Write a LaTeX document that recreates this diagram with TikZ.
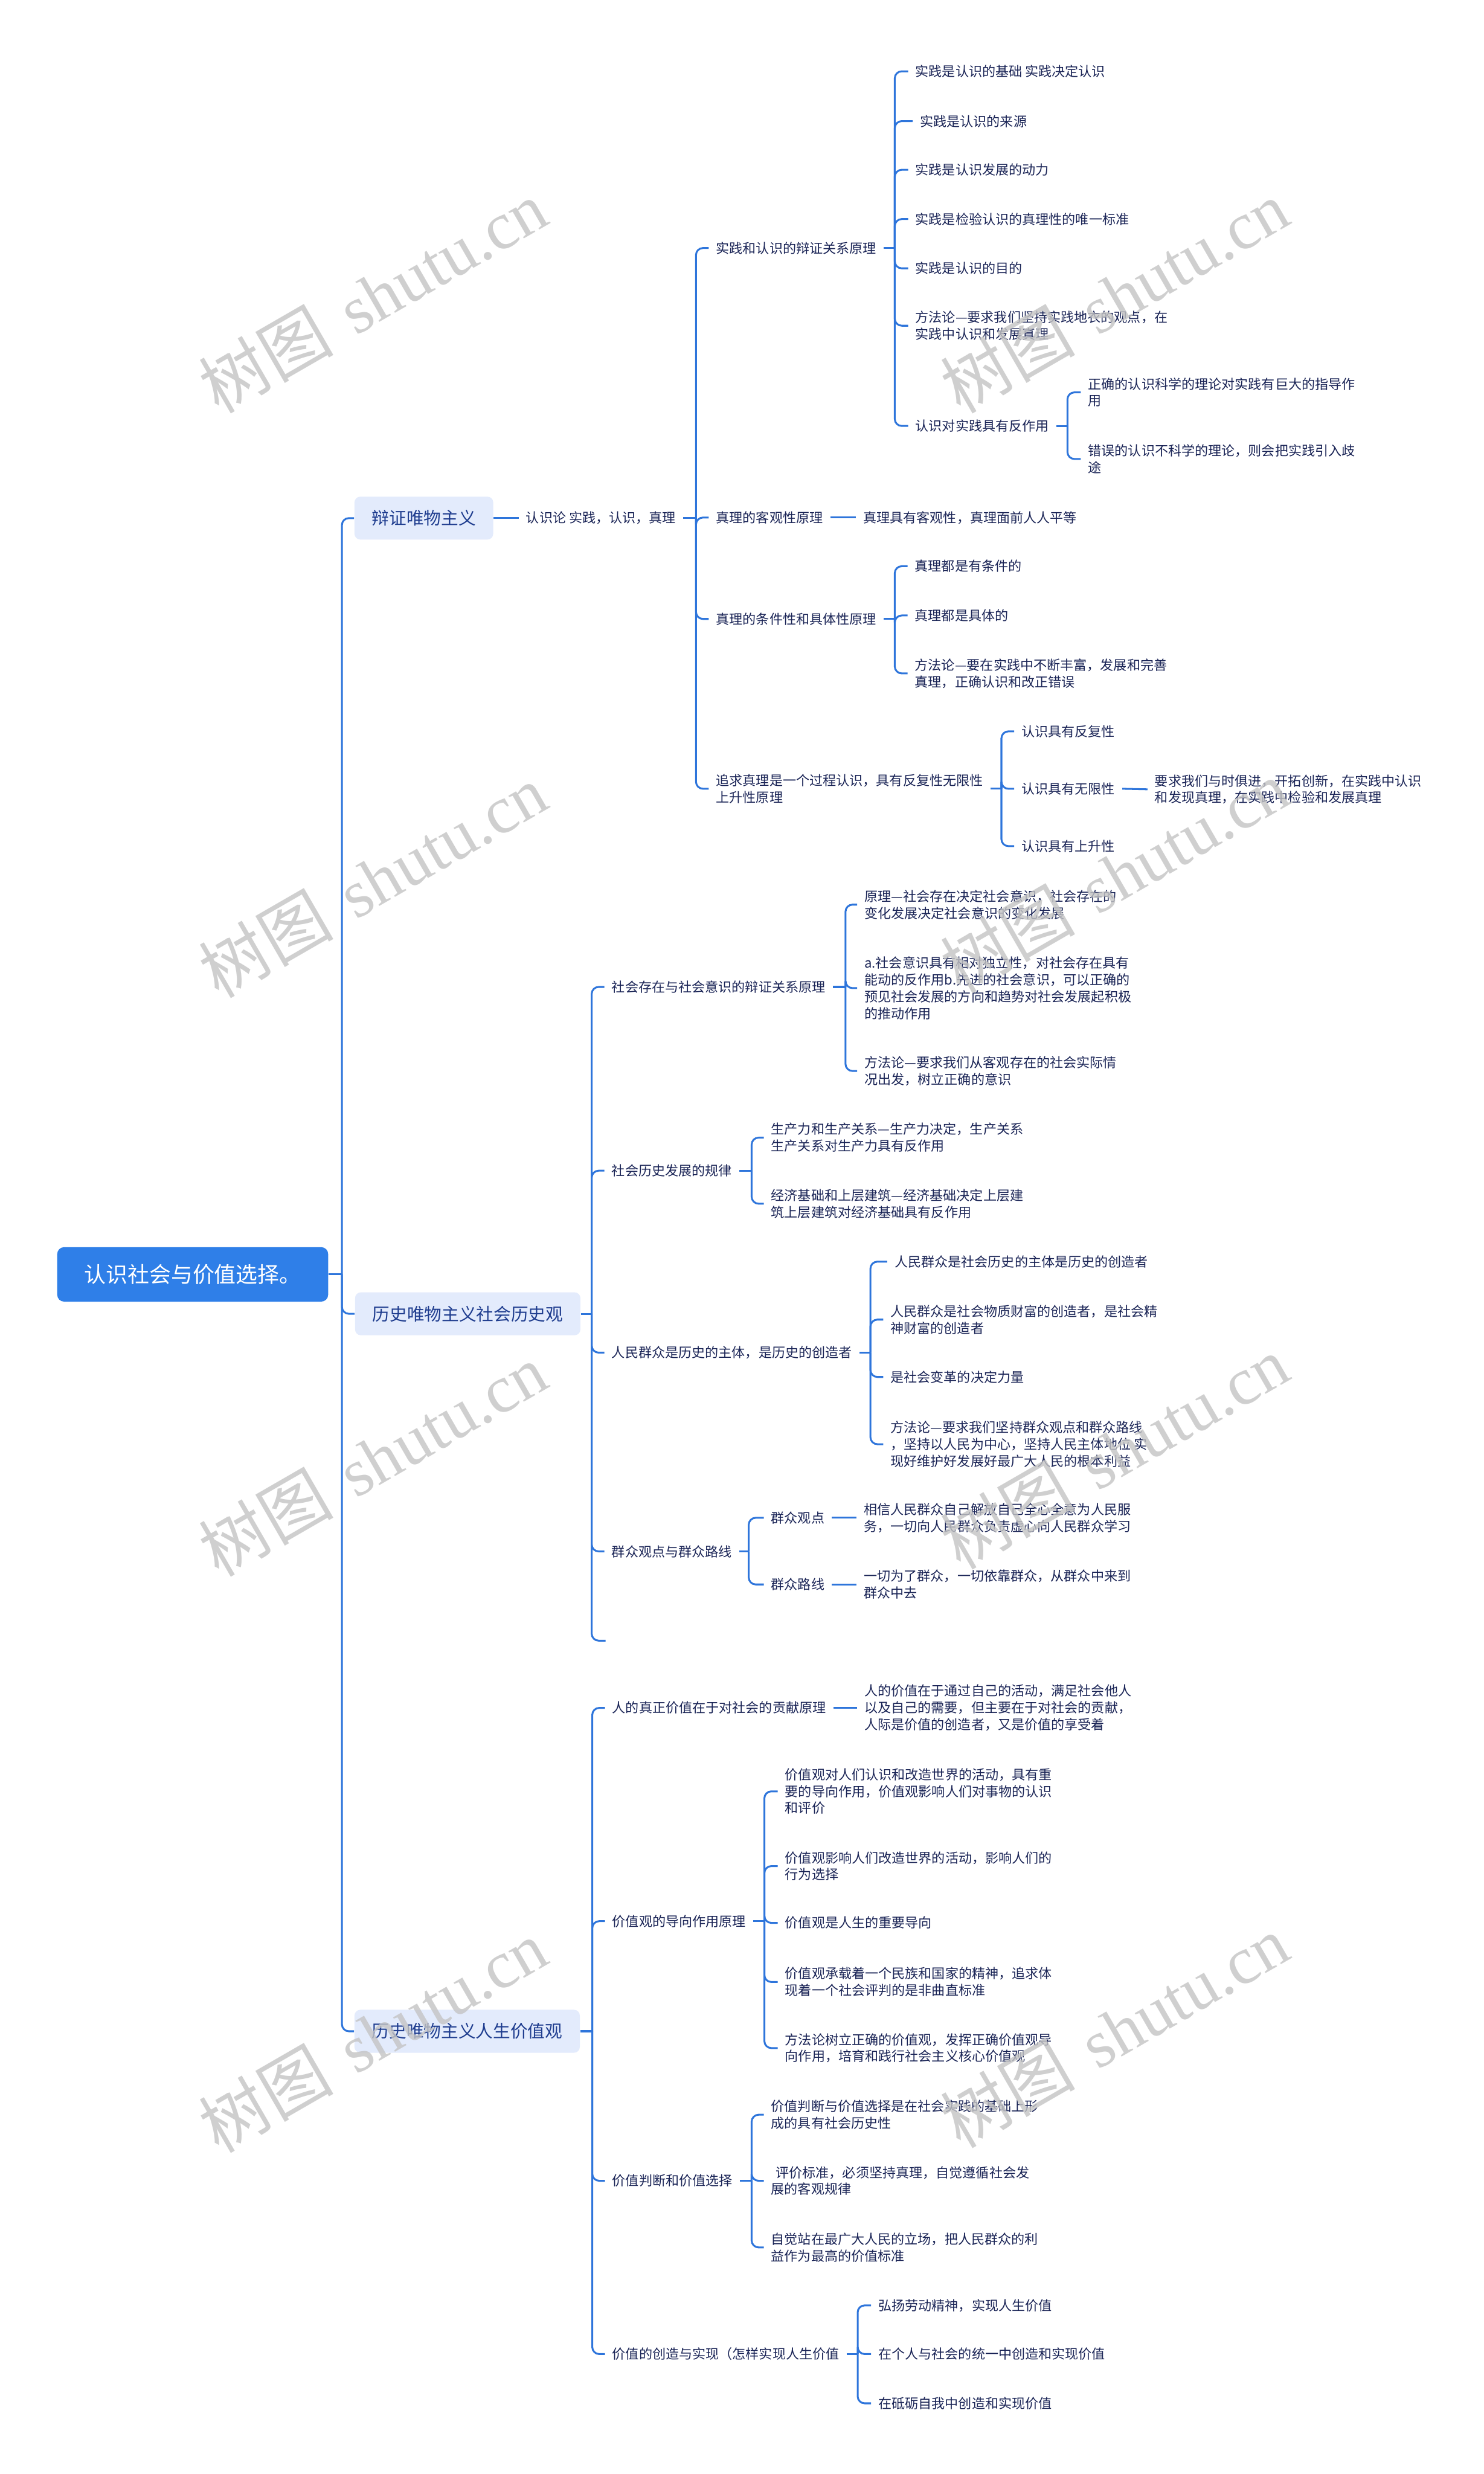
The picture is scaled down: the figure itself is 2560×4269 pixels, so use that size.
\documentclass[tikz,border=0pt]{standalone}
\usepackage{fontspec}
\newfontfamily\cjk{Noto Sans CJK SC}
\newfontfamily\wmserif{Liberation Serif}
\definecolor{lineblue}{HTML}{2E75DB}
\definecolor{rootfill}{HTML}{2F7FE8}
\definecolor{lonefill}{HTML}{E3EBFC}
\definecolor{lonetext}{HTML}{1F3D8F}
\definecolor{txt}{HTML}{1A2456}
\definecolor{wmgray}{HTML}{C4C4C4}
\newcommand{\mmsmall}{\cjk\fontsize{6.55pt}{8.23pt}\selectfont}
\newcommand{\mmmid}{\cjk\fontsize{8.5pt}{10pt}\selectfont}
\newcommand{\mmbig}{\cjk\fontsize{10.65pt}{12pt}\selectfont}
\begin{document}
\begin{tikzpicture}[x=0.01cm,y=-0.01cm,
  conn/.style={draw=lineblue,line width=0.9pt,rounded corners=0.12cm},
  rootbox/.style={fill=rootfill,rounded corners=0.12cm,text=white,font=\mmbig,
    minimum height=0.94cm,inner xsep=0.465cm,anchor=west},
  lonebox/.style={fill=lonefill,rounded corners=0.1cm,text=lonetext,font=\mmmid,
    minimum height=0.74cm,inner xsep=0.30cm,anchor=west},
  tx/.style={anchor=west,inner xsep=0.12cm,inner ysep=0.02cm,xshift=-0.12cm,
    align=left,text=txt,font=\mmsmall},
  wm/.style={text=wmgray,opacity=0.8,rotate=30,font=\fontsize{33pt}{36pt}\selectfont,inner sep=0}
]
\fill[white] (0,0) rectangle (2560,4269);
\useasboundingbox (0,0) rectangle (2560,4269);

% ---------- nodes ----------
\node[rootbox] (root) at (98,2199) {认识社会与价值选择。};
\node[lonebox] (A) at (611,894) {辩证唯物主义};
\node[lonebox] (B) at (612,2267) {历史唯物主义社会历史观};
\node[lonebox] (C) at (611,3505) {历史唯物主义人生价值观};

% section A
\node[tx] (A1) at (907,894) {认识论 实践，认识，真理};
\node[tx] (A1a) at (1235,428) {实践和认识的辩证关系原理};
\node[tx] (A1b) at (1235,893) {真理的客观性原理};
\node[tx] (A1c) at (1235,1068) {真理的条件性和具体性原理};
\node[tx] (A1d) at (1235,1361) {追求真理是一个过程认识，具有反复性无限性\\上升性原理};

\node[tx] (A1a1) at (1579,123) {实践是认识的基础 实践决定认识};
\node[tx] (A1a2) at (1587,209) {实践是认识的来源};
\node[tx] (A1a3) at (1579,293) {实践是认识发展的动力};
\node[tx] (A1a4) at (1579,378) {实践是检验认识的真理性的唯一标准};
\node[tx] (A1a5) at (1579,463) {实践是认识的目的};
\node[tx] (A1a6) at (1579,562) {方法论—要求我们坚持实践地衣的观点，在\\实践中认识和发展真理};
\node[tx] (A1a7) at (1579,735) {认识对实践具有反作用};
\node[tx] (A1a71) at (1877,677) {正确的认识科学的理论对实践有巨大的指导作\\用};
\node[tx] (A1a72) at (1877,792) {错误的认识不科学的理论，则会把实践引入歧\\途};

\node[tx] (A1b1) at (1489,893) {真理具有客观性，真理面前人人平等};

\node[tx] (A1c1) at (1578,977) {真理都是有条件的};
\node[tx] (A1c2) at (1578,1062) {真理都是具体的};
\node[tx] (A1c3) at (1578,1162) {方法论—要在实践中不断丰富，发展和完善\\真理，正确认识和改正错误};

\node[tx] (A1d1) at (1762,1262) {认识具有反复性};
\node[tx] (A1d2) at (1762,1361) {认识具有无限性};
\node[tx] (A1d3) at (1762,1460) {认识具有上升性};
\node[tx] (A1d21) at (1992,1362) {要求我们与时俱进，开拓创新，在实践中认识\\和发现真理，在实践中检验和发展真理};

% section B
\node[tx] (B1) at (1055,1703) {社会存在与社会意识的辩证关系原理};
\node[tx] (B2) at (1055,2020) {社会历史发展的规律};
\node[tx] (B3) at (1055,2334) {人民群众是历史的主体，是历史的创造者};
\node[tx] (B4) at (1055,2677) {群众观点与群众路线};
\coordinate (B5) at (1045,2831);

\node[tx] (B11) at (1491,1561) {原理—社会存在决定社会意识，社会存在的\\变化发展决定社会意识的变化发展};
\node[tx] (B12) at (1491,1705) {a.社会意识具有相对独立性，对社会存在具有\\能动的反作用b.先进的社会意识，可以正确的\\预见社会发展的方向和趋势对社会发展起积极\\的推动作用};
\node[tx] (B13) at (1491,1848) {方法论—要求我们从客观存在的社会实际情\\况出发，树立正确的意识};

\node[tx] (B21) at (1330,1963) {生产力和生产关系—生产力决定，生产关系\\生产关系对生产力具有反作用};
\node[tx] (B22) at (1330,2077) {经济基础和上层建筑—经济基础决定上层建\\筑上层建筑对经济基础具有反作用};

\node[tx] (B31) at (1543,2177) {人民群众是社会历史的主体是历史的创造者};
\node[tx] (B32) at (1536,2277) {人民群众是社会物质财富的创造者，是社会精\\神财富的创造者};
\node[tx] (B33) at (1536,2376) {是社会变革的决定力量};
\node[tx] (B34) at (1536,2492) {方法论—要求我们坚持群众观点和群众路线\\，坚持以人民为中心，坚持人民主体地位 实\\现好维护好发展好最广大人民的根本利益};

\node[tx] (B41) at (1330,2619) {群众观点};
\node[tx] (B42) at (1330,2734) {群众路线};
\node[tx] (B411) at (1490,2619) {相信人民群众自己解放自己全心全意为人民服\\务，一切向人民群众负责虚心向人民群众学习};
\node[tx] (B421) at (1490,2734) {一切为了群众，一切依靠群众，从群众中来到\\群众中去};

% section C
\node[tx] (C1) at (1056,2947) {人的真正价值在于对社会的贡献原理};
\node[tx] (C2) at (1056,3315) {价值观的导向作用原理};
\node[tx] (C3) at (1056,3763) {价值判断和价值选择};
\node[tx] (C4) at (1056,4062) {价值的创造与实现（怎样实现人生价值};

\node[tx] (C11) at (1491,2947) {人的价值在于通过自己的活动，满足社会他人\\以及自己的需要，但主要在于对社会的贡献，\\人际是价值的创造者，又是价值的享受着};

\node[tx] (C21) at (1354,3091) {价值观对人们认识和改造世界的活动，具有重\\要的导向作用，价值观影响人们对事物的认识\\和评价};
\node[tx] (C22) at (1354,3220) {价值观影响人们改造世界的活动，影响人们的\\行为选择};
\node[tx] (C23) at (1354,3318) {价值观是人生的重要导向};
\node[tx] (C24) at (1354,3420) {价值观承载着一个民族和国家的精神，追求体\\现着一个社会评判的是非曲直标准};
\node[tx] (C25) at (1354,3534) {方法论树立正确的价值观，发挥正确价值观导\\向作用，培育和践行社会主义核心价值观};

\node[tx] (C31) at (1330,3649) {价值判断与价值选择是在社会实践的基础上形\\成的具有社会历史性};
\node[tx] (C32) at (1330,3763) {\hspace*{0.08cm}评价标准，必须坚持真理，自觉遵循社会发\\展的客观规律};
\node[tx] (C33) at (1330,3878) {自觉站在最广大人民的立场，把人民群众的利\\益作为最高的价值标准};

\node[tx] (C41) at (1515,3978) {弘扬劳动精神，实现人生价值};
\node[tx] (C42) at (1515,4062) {在个人与社会的统一中创造和实现价值};
\node[tx] (C43) at (1515,4147) {在砥砺自我中创造和实现价值};

% ---------- fork points ----------
\coordinate (f0) at (590,2199);
\coordinate (fA1) at (1201,894);
\coordinate (fA1a) at (1544,428);
\coordinate (fA1a7) at (1842,735);
\coordinate (fA1c) at (1544,1068);
\coordinate (fA1d) at (1728,1361);
\coordinate (fB) at (1021,2267);
\coordinate (fB1) at (1459,1703);
\coordinate (fB2) at (1297,2020);
\coordinate (fB3) at (1502,2334);
\coordinate (fB4) at (1292,2677);
\coordinate (fC) at (1022,3505);
\coordinate (fC2) at (1319,3315);
\coordinate (fC3) at (1297,3763);
\coordinate (fC4) at (1480,4062);

% ---------- connectors ----------
\draw[conn] (root.east) -- (f0);
\foreach \c in {A,B,C} \draw[conn] (f0) |- (\c.west);

\draw[conn] (A.east) -- (A1.west);
\draw[conn] (A1.east) -- (fA1);
\foreach \c in {A1a,A1b,A1c,A1d} \draw[conn] (fA1) |- (\c.west);
\draw[conn] (A1a.east) -- (fA1a);
\foreach \c in {A1a1,A1a2,A1a3,A1a4,A1a5,A1a6,A1a7} \draw[conn] (fA1a) |- (\c.west);
\draw[conn] (A1a7.east) -- (fA1a7);
\foreach \c in {A1a71,A1a72} \draw[conn] (fA1a7) |- (\c.west);
\draw[conn] (A1b.east) -- (A1b1.west);
\draw[conn] (A1c.east) -- (fA1c);
\foreach \c in {A1c1,A1c2,A1c3} \draw[conn] (fA1c) |- (\c.west);
\draw[conn] (A1d.east) -- (fA1d);
\foreach \c in {A1d1,A1d2,A1d3} \draw[conn] (fA1d) |- (\c.west);
\draw[conn] (A1d2.east) -- (A1d21.west);

\draw[conn] (B.east) -- (fB);
\foreach \c in {B1,B2,B3,B4} \draw[conn] (fB) |- (\c.west);
\draw[conn] (fB) |- (B5);
\draw[conn] (B1.east) -- (fB1);
\foreach \c in {B11,B12,B13} \draw[conn] (fB1) |- (\c.west);
\draw[conn] (B2.east) -- (fB2);
\foreach \c in {B21,B22} \draw[conn] (fB2) |- (\c.west);
\draw[conn] (B3.east) -- (fB3);
\foreach \c in {B31,B32,B33,B34} \draw[conn] (fB3) |- (\c.west);
\draw[conn] (B4.east) -- (fB4);
\foreach \c in {B41,B42} \draw[conn] (fB4) |- (\c.west);
\draw[conn] (B41.east) -- (B411.west);
\draw[conn] (B42.east) -- (B421.west);

\draw[conn] (C.east) -- (fC);
\foreach \c in {C1,C2,C3,C4} \draw[conn] (fC) |- (\c.west);
\draw[conn] (C1.east) -- (C11.west);
\draw[conn] (C2.east) -- (fC2);
\foreach \c in {C21,C22,C23,C24,C25} \draw[conn] (fC2) |- (\c.west);
\draw[conn] (C3.east) -- (fC3);
\foreach \c in {C31,C32,C33} \draw[conn] (fC3) |- (\c.west);
\draw[conn] (C4.east) -- (fC4);
\foreach \c in {C41,C42,C43} \draw[conn] (fC4) |- (\c.west);

% ---------- watermarks ----------
\foreach \wx/\wy [count=\i] in {643/512,643/1520,643/2519,643/3513,1923/512,1923/1512,1923/2506,1923/3505}
  \node[wm] (wm\i) at (\wx,\wy) {{\cjk 树图}\hspace{0.35em}{\wmserif shutu.cn}};
\end{tikzpicture}
\end{document}
